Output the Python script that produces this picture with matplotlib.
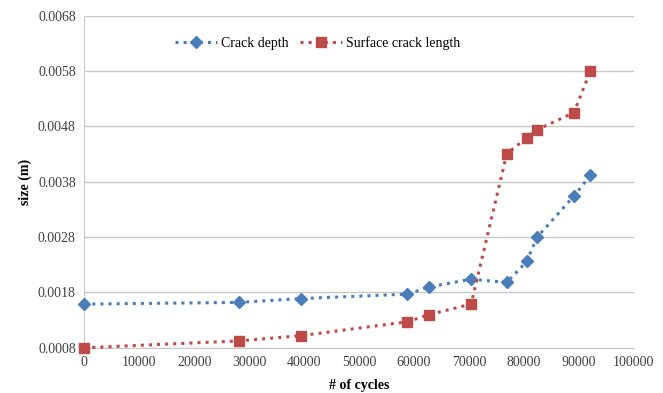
import matplotlib
matplotlib.use("Agg")
import matplotlib.pyplot as plt

plt.rcParams["font.family"] = ["Liberation Serif", "DejaVu Serif"]

# cycles at each inspection
CYCLES = [0, 28200, 39500, 58800, 62800, 70400, 76900, 80500, 82400, 89100, 92100]
# crack sizes (m)
CRACK_DEPTH = [0.00159, 0.00162, 0.00169, 0.00177, 0.00190, 0.00204,
               0.00198, 0.00236, 0.00280, 0.00354, 0.00392]
SURFACE_LENGTH = [0.00080, 0.000925, 0.00102, 0.00127, 0.00140, 0.00159,
                  0.00431, 0.00459, 0.00474, 0.00505, 0.00580]

X_TICKS = list(range(0, 100001, 10000))
Y_TICKS = [0.0008, 0.0018, 0.0028, 0.0038, 0.0048, 0.0058, 0.0068]

BLUE = "#4A7EBB"
RED = "#BE4B48"

fig = plt.figure(figsize=(6.63, 3.93), dpi=100)
ax = fig.add_axes([0.127, 0.115, 0.829, 0.845])

ax.plot(CYCLES, CRACK_DEPTH, color=BLUE, ls=":", lw=2.2, clip_on=False,
        marker="D", ms=6.5, mfc=BLUE, mec=BLUE, label="Crack depth", zorder=3)
ax.plot(CYCLES, SURFACE_LENGTH, color=RED, ls=":", lw=2.2, clip_on=False,
        marker="s", ms=7.5, mfc=RED, mec=RED, label="Surface crack length",
        zorder=3)

ax.set_xlim(0, 100000)
ax.set_ylim(0.0008, 0.0068)
ax.set_xticks(X_TICKS)
ax.set_xticklabels([str(t) for t in X_TICKS])
ax.set_yticks(Y_TICKS)
ax.set_yticklabels([f"{t:.4f}" for t in Y_TICKS])
ax.tick_params(length=0, labelsize=10, colors="#404040", pad=6)

ax.grid(axis="y", color="#c8c8c8", lw=1)
ax.set_axisbelow(True)
for side in ("top", "right"):
    ax.spines[side].set_visible(False)
ax.spines["left"].set_color("#c8c8c8")
ax.spines["bottom"].set_color("#c8c8c8")

ax.set_xlabel("# of cycles", fontsize=10, fontweight="bold", labelpad=7)
ax.set_ylabel("size (m)", fontsize=10, fontweight="bold", labelpad=4)

ax.legend(loc="upper center", bbox_to_anchor=(0.425, 0.975), ncol=2,
          frameon=False, fontsize=10, handlelength=3, columnspacing=0.8,
          handletextpad=0.3)

fig.savefig("out.png", dpi=100)
